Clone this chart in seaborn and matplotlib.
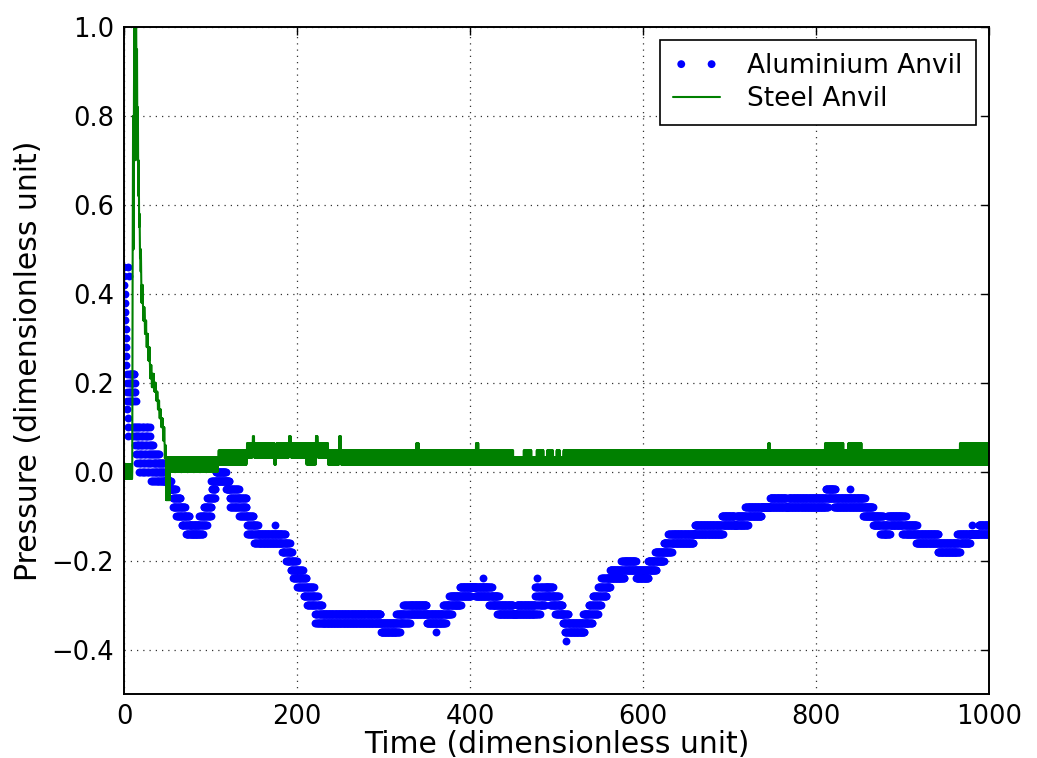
import numpy as np
import pandas as pd
import matplotlib
matplotlib.use("Agg")
import matplotlib.pyplot as plt
import seaborn as sns

# Both signals are quantised and jitter quickly between neighbouring levels.
# Each piece below: [edge_i, edge_i+1) with the levels the signal toggles between.
dt = 0.25

# Aluminium anvil (blue dots)
al_edges = [0, 5.5, 10, 12, 14, 16, 30, 35, 41, 47, 54, 56, 60, 66, 71, 76, 87, 92, 96, 101,
            106, 118, 122, 133, 142, 150, 155, 182, 187, 192, 195, 200, 207, 211, 220, 225,
            229, 297, 315, 319, 323, 331, 350, 369, 372, 376, 379, 388, 390, 401, 406, 421,
            426, 431, 434, 450, 454, 475, 481, 487, 492, 496, 498, 503, 507, 509, 514, 531,
            533, 537, 542, 548, 552, 558, 562, 575, 579, 592, 606, 614, 616, 624, 629, 634,
            658, 660, 691, 693, 706, 708, 718, 722, 737, 747, 766, 768, 811, 814, 820, 823,
            854, 857, 866, 874, 878, 882, 886, 899, 904, 915, 917, 940, 942, 963, 967, 978,
            988, 1000]
al_levels = [
    (0.46, 0.44, 0.42, 0.40, 0.38, 0.36, 0.34, 0.32, 0.30, 0.28, 0.26, 0.24, 0.22, 0.20,
     0.18, 0.16, 0.14, 0.12, 0.10, 0.08),
    (0.22, 0.20, 0.18, 0.16),
    (0.22, 0.10, 0.20, 0.08, 0.18, 0.16),
    (0.22, 0.10, 0.20, 0.08, 0.18, 0.06, 0.16, 0.04),
    (0.10, 0.08, 0.06, 0.04, 0.02),
    (0.10, 0.08, 0.06, 0.04, 0.02, 0.0),
    (0.06, 0.04, 0.02, 0.0, -0.02),
    (0.04, 0.02, 0.0, -0.02),
    (0.02, 0.0, -0.02),
    (-0.02,),
    (-0.04,),
    (-0.04, -0.06, -0.08),
    (-0.06, -0.08, -0.10),
    (-0.08, -0.10, -0.12),
    (-0.10, -0.12, -0.14),
    (-0.12, -0.14),
    (-0.10, -0.12, -0.14),
    (-0.08, -0.10, -0.12),
    (-0.06, -0.08, -0.10),
    (-0.02, -0.04, -0.06),
    (0.0, -0.02),
    (-0.02, -0.04),
    (-0.04, -0.06, -0.08),
    (-0.06, -0.08, -0.10),
    (-0.10, -0.12, -0.14),
    (-0.12, -0.14, -0.16),
    (-0.14, -0.16),
    (-0.14, -0.16, -0.18),
    (-0.16, -0.18, -0.20),
    (-0.18, -0.20, -0.22),
    (-0.20, -0.22, -0.24),
    (-0.22, -0.24, -0.26),
    (-0.24, -0.26, -0.28),
    (-0.26, -0.28, -0.30),
    (-0.28, -0.30, -0.32, -0.34),
    (-0.30, -0.32, -0.34),
    (-0.32, -0.34),
    (-0.34, -0.36),
    (-0.32, -0.34, -0.36),
    (-0.32, -0.34),
    (-0.30, -0.32, -0.34),
    (-0.30, -0.32),
    (-0.32, -0.34),
    (-0.30, -0.32, -0.34),
    (-0.30, -0.32),
    (-0.28, -0.30, -0.32),
    (-0.28, -0.30),
    (-0.26, -0.28, -0.30),
    (-0.26, -0.28),
    (-0.26,),
    (-0.26, -0.28),
    (-0.26, -0.28, -0.30),
    (-0.28, -0.30),
    (-0.28, -0.30, -0.32),
    (-0.30, -0.32),
    (-0.32,),
    (-0.30, -0.32),
    (-0.26, -0.28, -0.30, -0.32),
    (-0.26, -0.28, -0.30),
    (-0.26, -0.28),
    (-0.26, -0.28, -0.30),
    (-0.28, -0.30),
    (-0.28, -0.30, -0.32),
    (-0.30, -0.32),
    (-0.32, -0.34),
    (-0.32, -0.34, -0.36),
    (-0.34, -0.36),
    (-0.32, -0.34, -0.36),
    (-0.32, -0.34),
    (-0.30, -0.32, -0.34),
    (-0.28, -0.30, -0.32),
    (-0.26, -0.28, -0.30),
    (-0.24, -0.26, -0.28),
    (-0.24, -0.26),
    (-0.22, -0.24),
    (-0.20, -0.22, -0.24),
    (-0.20, -0.22),
    (-0.22, -0.24),
    (-0.20, -0.22),
    (-0.18, -0.20, -0.22),
    (-0.18, -0.20),
    (-0.16, -0.18),
    (-0.14, -0.16, -0.18),
    (-0.14, -0.16),
    (-0.14,),
    (-0.12, -0.14),
    (-0.10, -0.12, -0.14),
    (-0.10, -0.12),
    (-0.12,),
    (-0.10, -0.12),
    (-0.08, -0.10, -0.12),
    (-0.08, -0.10),
    (-0.08,),
    (-0.06, -0.08),
    (-0.08,),
    (-0.06, -0.08),
    (-0.04, -0.06, -0.08),
    (-0.04, -0.06),
    (-0.04, -0.06, -0.08),
    (-0.06, -0.08),
    (-0.06, -0.08, -0.10),
    (-0.08, -0.10),
    (-0.10, -0.12),
    (-0.10, -0.12, -0.14),
    (-0.12, -0.14),
    (-0.10, -0.12, -0.14),
    (-0.10, -0.12),
    (-0.10, -0.12, -0.14),
    (-0.12, -0.14),
    (-0.12, -0.14, -0.16),
    (-0.14, -0.16),
    (-0.14, -0.16, -0.18),
    (-0.16, -0.18),
    (-0.14, -0.16, -0.18),
    (-0.14, -0.16),
    (-0.14,),
    (-0.12, -0.14),
]
# stray single readings
al_dot_t = [175, 360.5, 414.6, 477, 510.5, 839.4, 980]
al_dot_v = [-0.12, -0.36, -0.24, -0.24, -0.38, -0.04, -0.12]

# Steel anvil (green line)
st_edges_a = [0, 9.5]
st_levels_a = [(0.016, -0.016)]
st_peak_t = [9.5, 10.0, 10.5, 11.0, 11.5, 12.0, 12.5, 13.0, 13.5, 14.0, 14.5, 15.0, 15.5,
             16.0, 16.5, 17.0, 17.5, 18.0, 18.5]
st_peak_v = [0.0, 0.50, 0.80, 0.50, 0.85, 1.05, 0.70, 1.10, 0.95, 1.05, 0.80, 0.95, 0.70,
             0.82, 0.62, 0.70, 0.55, 0.58, 0.48]
st_edges_b = [19, 20, 22, 24, 26, 28, 30, 32, 35, 37, 39, 41, 43, 45, 47, 48.5, 53, 100,
              109, 119, 142, 149, 150.5, 174, 176, 191, 193, 211, 222, 224, 236, 249, 251,
              338, 341, 407, 410, 450, 462, 471, 477, 485, 489, 496, 500, 504, 508, 745,
              747, 810, 832, 837, 853, 966, 1000]
st_levels_b = [
    (0.50, 0.45), (0.42, 0.38), (0.37, 0.34), (0.34, 0.31), (0.31, 0.28), (0.28, 0.25),
    (0.24, 0.21), (0.22, 0.19), (0.20, 0.18), (0.18, 0.16), (0.16, 0.14), (0.14, 0.12),
    (0.12, 0.10), (0.10, 0.07), (0.06, 0.03), (0.032, -0.064), (0.0, 0.032),
    (0.0, 0.016, 0.032), (0.016, 0.032, 0.048), (0.016, 0.048), (0.032, 0.064), (0.08,),
    (0.032, 0.064), (0.016, 0.048), (0.032, 0.064), (0.08, 0.064), (0.032, 0.064),
    (0.016, 0.048, 0.064), (0.08, 0.064), (0.032, 0.064), (0.016, 0.048), (0.08, 0.048),
    (0.016, 0.048), (0.064, 0.016), (0.016, 0.048), (0.064, 0.016), (0.016, 0.048),
    (0.016, 0.032), (0.016, 0.048), (0.016, 0.032), (0.016, 0.048), (0.016, 0.032),
    (0.016, 0.048), (0.016, 0.032), (0.016, 0.048), (0.016, 0.032), (0.016, 0.048),
    (0.064, 0.016), (0.016, 0.048), (0.016, 0.048, 0.064), (0.016, 0.048),
    (0.016, 0.048, 0.064), (0.016, 0.048), (0.016, 0.048, 0.064),
]


def expand(edges, levels):
    ts, vs = [], []
    for a, b, lv in zip(edges[:-1], edges[1:], levels):
        t = np.arange(a, b, dt)
        ts.append(t)
        vs.append(np.resize(np.array(lv), len(t)))
    return np.concatenate(ts), np.concatenate(vs)


t_al, v_al = expand(al_edges, al_levels)
alu = pd.DataFrame({"time": np.concatenate([t_al, al_dot_t]),
                    "pressure": np.concatenate([v_al, al_dot_v])})

ta, va = expand(st_edges_a, st_levels_a)
tb, vb = expand(st_edges_b, st_levels_b)
steel = pd.DataFrame({"time": np.concatenate([ta, st_peak_t, tb]),
                      "pressure": np.concatenate([va, st_peak_v, vb])})

sns.set_style("white")
plt.rcParams.update({
    "font.family": ["DejaVu Sans"],
    "text.color": "black", "axes.labelcolor": "black",
    "xtick.direction": "in", "ytick.direction": "in",
    "xtick.top": True, "ytick.right": True,
    "xtick.major.size": 6, "ytick.major.size": 6,
    "xtick.major.width": 1.0, "ytick.major.width": 1.0,
    "xtick.color": "black", "ytick.color": "black",
    "axes.edgecolor": "black", "axes.linewidth": 1.4,
})

fig = plt.figure(figsize=(10.37, 7.58), dpi=100)
ax = fig.add_axes([0.1196, 0.0844, 0.9537 - 0.1196, 0.9644 - 0.0844])

sns.scatterplot(data=alu, x="time", y="pressure", ax=ax, color="#0000ff", s=32,
                linewidth=0, label="Aluminium Anvil", zorder=2)
sns.lineplot(data=steel, x="time", y="pressure", ax=ax, color="#008000", lw=1.5,
             estimator=None, sort=False, label="Steel Anvil", zorder=3)

ax.set_xlim(0, 1000)
ax.set_ylim(-0.5, 1.0)
ax.set_xticks([0, 200, 400, 600, 800, 1000])
ax.set_yticks([-0.4, -0.2, 0.0, 0.2, 0.4, 0.6, 0.8, 1.0])
ax.set_yticklabels(["\u22120.4", "\u22120.2", "0.0", "0.2", "0.4", "0.6", "0.8", "1.0"])
ax.tick_params(labelsize=18.5, pad=7, labelcolor="black")
ax.grid(True, color="black", linestyle=(0, (1, 4)), linewidth=0.9, alpha=0.8)
for sp in ax.spines.values():
    sp.set_visible(True)
    sp.set_zorder(5)

ax.set_xlabel("Time (dimensionless unit)", fontsize=21.5, labelpad=0)
ax.set_ylabel("Pressure (dimensionless unit)", fontsize=21.5, labelpad=6)

leg = ax.legend(loc="upper right", fontsize=19, scatterpoints=2, scatteryoffsets=[0.5, 0.5],
                handlelength=1.75, borderaxespad=0.5, fancybox=False, framealpha=1,
                edgecolor="black", borderpad=0.5, labelspacing=0.25, handletextpad=1.05)
leg.get_frame().set_linewidth(1.2)
for txt in leg.get_texts():
    txt.set_color("black")

fig.savefig("out.png", dpi=100)
